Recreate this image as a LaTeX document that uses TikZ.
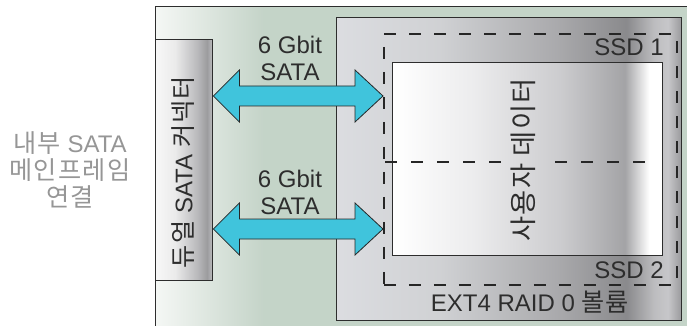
\documentclass[tikz,border=0pt]{standalone}
\usepackage{fontspec}
\setmainfont{Liberation Sans}
\newfontfamily\kr[Scale=1.05,LetterSpace=5]{Noto Sans CJK KR}
\usetikzlibrary{calc}
\definecolor{arrowcyan}{RGB}{64,196,220}
\definecolor{inkgray}{RGB}{45,45,45}
\definecolor{sidegray}{RGB}{150,150,150}
\pgfdeclarehorizontalshading{outershade}{100bp}{rgb(0bp)=(0.96,0.97,0.96); rgb(25bp)=(0.96,0.97,0.96); rgb(35bp)=(0.77,0.83,0.785); rgb(100bp)=(0.77,0.83,0.785)}
\pgfdeclarehorizontalshading{connshade}{100bp}{rgb(0bp)=(0.97,0.97,0.97); rgb(25bp)=(0.97,0.97,0.97); rgb(42bp)=(0.92,0.92,0.92); rgb(62bp)=(0.72,0.72,0.73); rgb(70bp)=(0.61,0.61,0.62); rgb(75bp)=(0.74,0.74,0.75); rgb(100bp)=(0.74,0.74,0.75)}
\pgfdeclarehorizontalshading{raidshade}{100bp}{rgb(0bp)=(0.86,0.865,0.88); rgb(25bp)=(0.86,0.865,0.88); rgb(40bp)=(0.815,0.82,0.83); rgb(57bp)=(0.665,0.665,0.675); rgb(67bp)=(0.54,0.54,0.55); rgb(71bp)=(0.74,0.74,0.75); rgb(73bp)=(0.78,0.78,0.79); rgb(75bp)=(0.60,0.60,0.61); rgb(100bp)=(0.60,0.60,0.61)}
\pgfdeclarehorizontalshading{innershade}{100bp}{rgb(0bp)=(1,1,1); rgb(25bp)=(1,1,1); rgb(40bp)=(0.925,0.925,0.93); rgb(56bp)=(0.80,0.80,0.81); rgb(68bp)=(0.64,0.64,0.65); rgb(72.5bp)=(1,1,1); rgb(100bp)=(1,1,1)}
\begin{document}
\begin{tikzpicture}[x=1pt,y=-1pt,
  box/.style={draw=inkgray, line width=1.4pt, inner sep=0pt, anchor=north west},
  lbl/.style={text=inkgray, inner sep=0pt, font=\fontsize{24}{27}\selectfont},
  dashbox/.style={draw=black!85, line width=1.6pt, dash pattern=on 12pt off 13pt, inner sep=0pt, anchor=north west},
  midline/.style={black!85, line width=1.4pt, dash pattern=on 12pt off 14pt},
  blockarrow/.style={draw=black!85, line width=0.8pt, fill=arrowcyan, line join=miter}]
\useasboundingbox (0,0) rectangle (687,326);
\begin{scope}
\clip (0,0) rectangle (687,326);
\node[box, shading=outershade, minimum width=537pt, minimum height=330pt] (outer) at (155,6) {};
\end{scope}
\node[box, shading=connshade, minimum width=57pt, minimum height=241pt] (conn) at (155,39) {};
\node[box, shading=raidshade, minimum width=345pt, minimum height=303pt] (raid) at (336,17) {};
\node[box, shading=innershade, minimum width=270pt, minimum height=193pt] (inner) at (392,62) {};
\node[dashbox, minimum width=293pt, minimum height=251pt] (ssd) at (383,33) {};
\coordinate (mL) at (385,162);
\coordinate (mA) at (505,162);
\coordinate (mB) at (555,162);
\coordinate (mR) at (650,162);
\draw[midline] (mL) -- (mA);
\draw[midline] (mB) -- (mR);
% arrows
\coordinate (u1) at (conn.east |- 0,96);
\coordinate (u2) at (ssd.west |- 0,96);
\coordinate (l1) at (conn.east |- 0,229);
\coordinate (l2) at (ssd.west |- 0,229);
\draw[blockarrow] (u1) -- ++(26,-26) -- ++(0,16) -- ($(u2)+(-28,-10)$) -- ++(0,-16) -- (u2) -- ++(-28,26) -- ++(0,-16) -- ($(u1)+(26,10)$) -- ++(0,16) -- cycle;
\draw[blockarrow] (l1) -- ++(26,-26) -- ++(0,16) -- ($(l2)+(-28,-10)$) -- ++(0,-16) -- (l2) -- ++(-28,26) -- ++(0,-16) -- ($(l1)+(26,10)$) -- ++(0,16) -- cycle;
% texts
\node[lbl, align=center] (rate1) at (290,58) {6 Gbit\\SATA};
\node[lbl, align=center] (rate2) at (290,192) {6 Gbit\\SATA};
\node[lbl, text=sidegray, align=center] (side) at (70,170) {{\kr 내부} SATA\\{\kr 메인프레임}\\{\kr 연결}};
\node[lbl, rotate=90] (conntxt) at (183,172) {{\kr 듀얼} SATA {\kr 커넥터}};
\node[lbl, rotate=90, font=\fontsize{26}{30}\selectfont] (datatxt) at (523,160) {{\kr 사용자 데이터}};
\node[lbl, anchor=east] (ssd1) at (664,47) {SSD 1};
\node[lbl, anchor=east] (ssd2) at (664,270) {SSD 2};
\node[lbl] (vol) at (530,302) {EXT4 RAID 0 {\kr 볼륨}};
\end{tikzpicture}
\end{document}
